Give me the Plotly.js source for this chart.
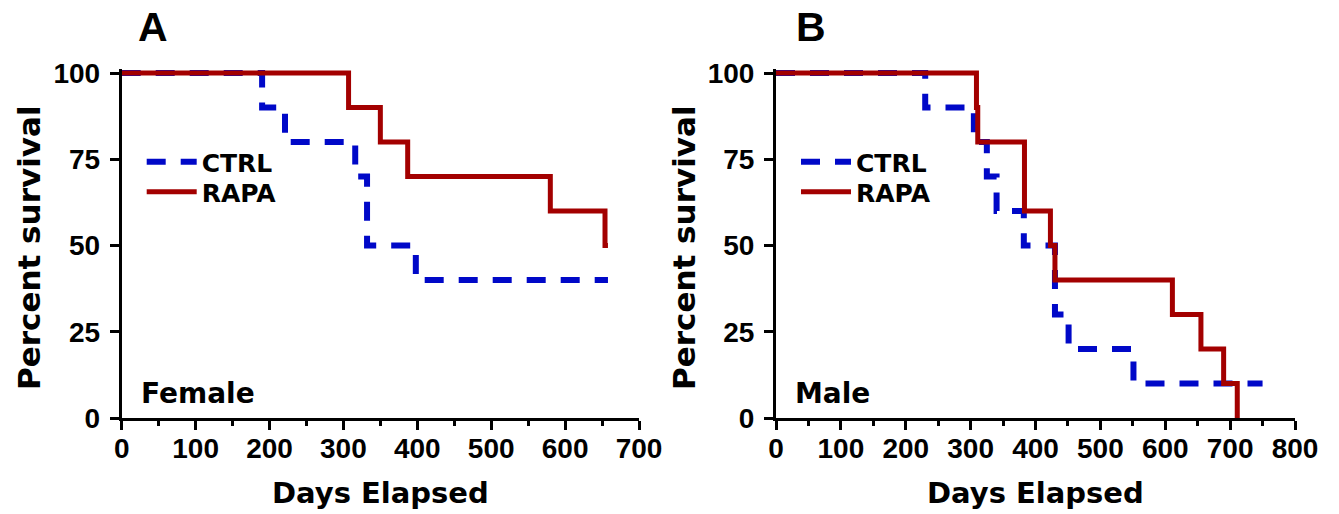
<!DOCTYPE html>
<html>
<head>
<meta charset="utf-8">
<script src="https://cdn.plot.ly/plotly-3.0.1.min.js"></script>
<style>html,body{margin:0;padding:0;background:#fff;}#chart{width:1339px;height:514px;}</style>
</head>
<body>
<div id="chart"></div>
<script>
// ---- data ----
const seriesNames = ['CTRL', 'RAPA'];
const panelLabels = ['A', 'B'];
const sexLabels = ['Female', 'Male'];
const yTickVals = [0, 25, 50, 75, 100];
const xRangeA = [0, 700];
const xRangeB = [0, 800];
const yRange = [0, 100];

// Panel A (Female)
const daysA_ctrl = [0, 190, 221, 316, 332, 398, 658];
const survA_ctrl = [100, 90, 80, 70, 50, 40, 40];
const daysA_rapa = [0, 307, 350, 387, 580, 654, 658];
const survA_rapa = [100, 90, 80, 70, 60, 50, 50];
// Panel B (Male)
const daysB_ctrl = [0, 230, 305, 325, 340, 382, 430, 451, 551, 750];
const survB_ctrl = [100, 90, 80, 70, 60, 50, 30, 20, 10, 10];
const daysB_rapa = [0, 309, 311, 383, 423, 430, 611, 655, 690, 711];
const survB_rapa = [100, 90, 80, 60, 50, 40, 30, 20, 10, 0];

// ---- layout geometry ----
const W = 1339, H = 514;
const plotA = {x0: 121.7, x1: 639};
const plotB = {x0: 776, x1: 1295};
const yTopPx = 73, yBotPx = 418;
const ETOP = 4; // a few extra pixels above 100% so the top line is not clipped

const BLUE = '#0008C8', RED = '#A30000';
const wordFont = 'DejaVu Sans, Liberation Sans, Arial, sans-serif';
const numFont = 'Liberation Sans, Arial, sans-serif';

function xAxis(p, range, anchor) {
  return {
    domain: [p.x0 / W, p.x1 / W], range: range, anchor: anchor,
    showline: true, linecolor: '#000', linewidth: 3,
    ticks: 'outside', ticklen: 9, tickwidth: 3, tickcolor: '#000',
    tick0: 0, dtick: 100, showgrid: false, zeroline: false,
    minor: {ticks: 'outside', dtick: 50, tick0: 0, ticklen: 5, tickwidth: 3, tickcolor: '#000', showgrid: false},
    tickfont: {family: numFont, size: 28, color: '#000', weight: 'bold'},
    ticklabelstandoff: -6, fixedrange: true
  };
}
function yAxis(anchor) {
  const s = (yBotPx - yTopPx) / (yRange[1] - yRange[0]);
  return {
    domain: [(H - yBotPx) / H, (H - yTopPx + ETOP) / H], range: [yRange[0], yRange[1] + ETOP / s], anchor: anchor,
    showline: true, linecolor: '#000', linewidth: 3,
    ticks: 'outside', ticklen: 9, tickwidth: 3, tickcolor: '#000',
    tickvals: yTickVals, ticktext: yTickVals.map(String),
    showgrid: false, zeroline: false,
    tickfont: {family: numFont, size: 28, color: '#000', weight: 'bold'},
    ticklabelstandoff: 4, fixedrange: true
  };
}

function ctrlTrace(x, y, xa, ya, leg) {
  return {x: x, y: y, xaxis: xa, yaxis: ya, legend: leg, name: seriesNames[0], type: 'scatter', mode: 'lines',
          line: {shape: 'hv', color: BLUE, width: 6, dash: '19px,15px'}, hoverinfo: 'skip'};
}
function rapaTrace(x, y, xa, ya, leg) {
  return {x: x, y: y, xaxis: xa, yaxis: ya, legend: leg, name: seriesNames[1], type: 'scatter', mode: 'lines',
          line: {shape: 'hv', color: RED, width: 5}, hoverinfo: 'skip'};
}

const traces = [
  ctrlTrace(daysA_ctrl, survA_ctrl, 'x', 'y', 'legend'),
  rapaTrace(daysA_rapa, survA_rapa, 'x', 'y', 'legend2'),
  ctrlTrace(daysB_ctrl, survB_ctrl, 'x2', 'y2', 'legend3'),
  rapaTrace(daysB_rapa, survB_rapa, 'x2', 'y2', 'legend4')
];

const legendBase = {
  xanchor: 'left', yanchor: 'middle', bgcolor: 'rgba(0,0,0,0)', borderwidth: 0,
  font: {family: wordFont, size: 25, color: '#000', weight: 'bold'},
  itemwidth: 50, tracegroupgap: 0, itemclick: false, itemdoubleclick: false
};
function leg(xpx, ypx) { return Object.assign({}, legendBase, {x: xpx / W, y: (H - ypx) / H}); }

function ann(text, xpx, ypx, opts) {
  return Object.assign({text: text, x: xpx / W, y: (H - ypx) / H, xref: 'paper', yref: 'paper',
                        showarrow: false, xanchor: 'center', yanchor: 'middle'}, opts || {});
}
const xTitleFont = {family: wordFont, size: 29, color: '#000', weight: 'bold'};
const yTitleFont = {family: wordFont, size: 31, color: '#000', weight: 'bold'};
const tagFont = {family: wordFont, size: 28, color: '#000', weight: 'bold'};
const panelFont = {family: numFont, size: 41, color: '#000', weight: 'bold'};

const layout = {
  width: W, height: H, margin: {l: 0, r: 0, t: 0, b: 0},
  paper_bgcolor: '#fff', plot_bgcolor: 'rgba(0,0,0,0)',
  showlegend: true,
  legend: leg(plotA.x0 + 20, 162),
  legend2: leg(plotA.x0 + 20, 192),
  legend3: leg(plotB.x0 + 20, 162),
  legend4: leg(plotB.x0 + 20, 192),
  xaxis: xAxis(plotA, xRangeA, 'y'),
  yaxis: yAxis('x'),
  xaxis2: xAxis(plotB, xRangeB, 'y2'),
  yaxis2: yAxis('x2'),
  annotations: [
    ann(panelLabels[0], 152.5, 27, {font: panelFont}),
    ann(panelLabels[1], 811, 27, {font: panelFont}),
    ann('Percent survival', 29, 248, {textangle: -90, font: yTitleFont}),
    ann('Percent survival', 684, 248, {textangle: -90, font: yTitleFont}),
    ann('Days Elapsed', (plotA.x0 + plotA.x1) / 2, 493, {font: xTitleFont}),
    ann('Days Elapsed', (plotB.x0 + plotB.x1) / 2, 493, {font: xTitleFont}),
    ann(sexLabels[0], plotA.x0 + 17, 394, {xanchor: 'left', font: tagFont}),
    ann(sexLabels[1], plotB.x0 + 17, 394, {xanchor: 'left', font: tagFont})
  ]
};

Plotly.newPlot('chart', traces, layout, {staticPlot: true, displayModeBar: false});
</script>
</body>
</html>
